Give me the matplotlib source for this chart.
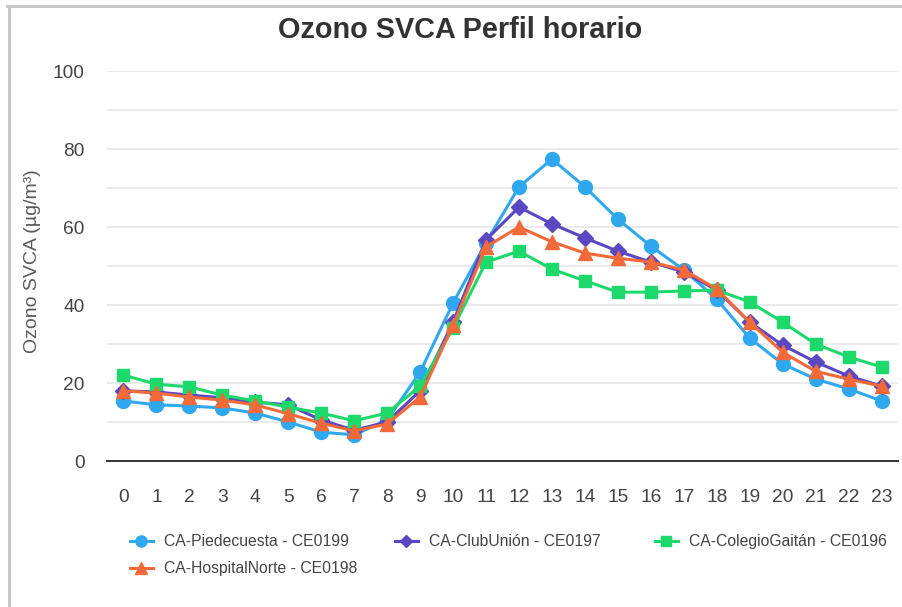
import matplotlib.pyplot as plt
from matplotlib.lines import Line2D

plt.rcParams['font.family'] = ['Liberation Sans', 'DejaVu Sans']

HOURS = list(range(24))
PIEDECUESTA = [15.4, 14.4, 14.1, 13.6, 12.3, 10.0, 7.4, 6.7, 10.5, 22.8, 40.5, 56.0,
               70.3, 77.4, 70.3, 62.0, 55.1, 49.0, 41.5, 31.5, 24.9, 21.0, 18.5, 15.4]
CLUBUNION = [18.0, 17.7, 16.9, 16.2, 15.1, 14.4, 10.5, 7.9, 10.0, 18.0, 35.6, 56.7,
             65.1, 60.8, 57.2, 53.8, 51.0, 48.5, 43.8, 35.6, 29.7, 25.4, 21.8, 19.2]
COLEGIOGAITAN = [22.0, 19.7, 19.0, 16.9, 15.4, 13.8, 12.3, 10.3, 12.3, 19.2, 34.1, 51.0,
                 53.8, 49.2, 46.2, 43.3, 43.3, 43.6, 43.8, 40.8, 35.6, 30.0, 26.7, 24.1]
HOSPITALNORTE = [18.0, 17.4, 16.4, 15.6, 14.4, 12.1, 9.7, 7.7, 9.5, 16.4, 34.9, 54.9,
                 60.0, 56.2, 53.3, 52.0, 51.0, 49.0, 44.1, 35.6, 27.9, 23.0, 21.0, 19.2]

SERIES = [
    ('CA-Piedecuesta - CE0199', PIEDECUESTA, '#2FA8F0', 'o', 10.0),
    ('CA-ClubUnión - CE0197', CLUBUNION, '#5A47C2', 'D', 7.8),
    ('CA-ColegioGaitán - CE0196', COLEGIOGAITAN, '#1DD86A', 's', 9.3),
    ('CA-HospitalNorte - CE0198', HOSPITALNORTE, '#F26A3A', '^', 10.5),
]

W, H = 902, 607
fig = plt.figure(figsize=(W / 100, H / 100), dpi=100)
ax = fig.add_axes([107 / W, 1 - 461 / H, 791 / W, 390 / H])

handles = {}
for label, vals, color, marker, ms in SERIES:
    ln, = ax.plot(HOURS, vals, color=color, marker=marker, markersize=ms,
                  linewidth=2.2, label=label, clip_on=False)
    handles[label] = ln

ax.set_xlim(-0.5, 23.5)
ax.set_ylim(0, 100)
ax.set_yticks(range(0, 101, 20))
ax.set_yticks(range(10, 100, 20), minor=True)
ax.set_xticks(HOURS)
ax.grid(axis='y', which='both', color='#e6e6e6', linewidth=1.2)
ax.set_axisbelow(True)
for side in ['left', 'right', 'top']:
    ax.spines[side].set_visible(False)
ax.spines['bottom'].set_color('#333333')
ax.spines['bottom'].set_linewidth(1.4)
ax.tick_params(axis='both', which='both', length=0, labelsize=13.8, colors='#444444')
ax.tick_params(axis='y', pad=16)
ax.tick_params(axis='x', pad=20)

fig.text(460 / W, 1 - 30 / H, 'Ozono SVCA Perfil horario', ha='center', va='center',
         fontsize=20.8, fontweight='bold', color='#333333')
fig.text(33 / W, 1 - 261 / H, 'Ozono SVCA (µg/m³)', rotation=90, ha='center', va='center',
         fontsize=14, color='#5a5a5a')

# legend columns placed like the original (uneven spacing)
cols = [
    (130, ['CA-Piedecuesta - CE0199', 'CA-HospitalNorte - CE0198']),
    (395, ['CA-ClubUnión - CE0197']),
    (655, ['CA-ColegioGaitán - CE0196']),
]
for x0, labels in cols:
    lg = fig.legend([handles[l] for l in labels], labels, loc='upper left',
                    bbox_to_anchor=(x0 / W, 1 - 534 / H), frameon=False,
                    fontsize=11.3, handlelength=1.45, handletextpad=0.7,
                    borderpad=0, borderaxespad=0, labelspacing=0.78, markerscale=0.8)
    for t in lg.get_texts():
        t.set_color('#444444')

# chart border (top and left edges visible)
fig.add_artist(Line2D([7 / W, 1], [1 - 5.5 / H, 1 - 5.5 / H], color='#c8c8c8', linewidth=2.2))
fig.add_artist(Line2D([8.5 / W, 8.5 / W], [0, 1 - 5.5 / H], color='#c8c8c8', linewidth=2.2))

fig.savefig('out.png', dpi=100)
